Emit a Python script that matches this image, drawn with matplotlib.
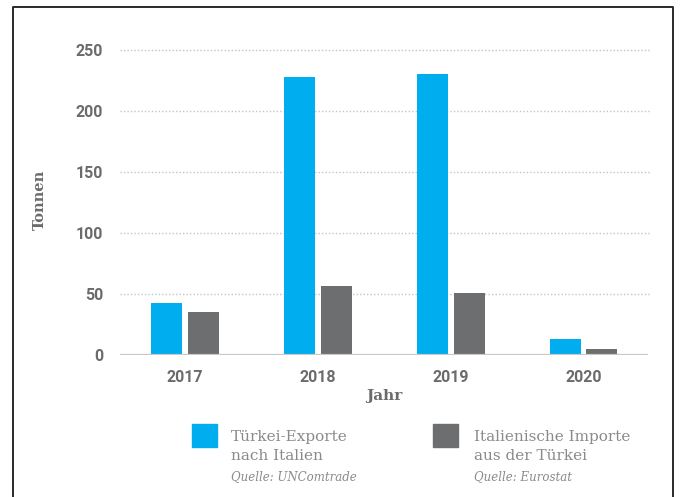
import matplotlib
matplotlib.use("Agg")
import matplotlib.pyplot as plt
from matplotlib.patches import Rectangle
from matplotlib.lines import Line2D
import numpy as np

years = ["2017", "2018", "2019", "2020"]
exports_tr = [43, 228, 230, 13]      # Türkei-Exporte nach Italien
imports_it = [35, 56.5, 51, 5]       # Italienische Importe aus der Türkei
y_ticks = [0, 50, 100, 150, 200, 250]

BLUE = "#00AEEF"
GREY = "#6D6E70"
TXT = "#6b6b6b"

W, H = 681, 497
fig = plt.figure(figsize=(W / 100, H / 100), dpi=100)

def fx(px):
    return px / W

def fy(py):
    return 1 - py / H

# outer frame (left, top, right)
fig.add_artist(Line2D([fx(13), fx(13), fx(673), fx(673)],
                      [0, fy(7), fy(7), 0], color="#2a2a2a", lw=1.4,
                      transform=fig.transFigure))

ax = fig.add_axes([fx(120), fy(355), fx(650) - fx(120), fy(50) - fy(355)])
x = np.arange(len(years))
bw = 0.233
off = 0.138
ax.bar(x - off, exports_tr, bw, color=BLUE, zorder=3)
ax.bar(x + off, imports_it, bw, color=GREY, zorder=3)

ax.set_xlim(-0.49, 3.5)
ax.set_ylim(0, 250)
ax.set_yticks(y_ticks)
ax.set_xticks(x)
ax.set_xticklabels(years)
for s in ax.spines.values():
    s.set_visible(False)
for t in y_ticks[1:]:
    ax.axhline(t, color="#c4c4c4", lw=1.0, ls=(0, (1, 1.5)), zorder=1,
               clip_on=False)
ax.axhline(0, color="#c8c8c8", lw=1.6, zorder=4, xmax=0.995)

ax.tick_params(length=0)
ax.tick_params(axis="y", pad=12.2)
ax.tick_params(axis="x", pad=10.5)
for lab in ax.get_xticklabels() + ax.get_yticklabels():
    lab.set_fontfamily("Roboto")
    lab.set_fontweight("bold")
    lab.set_fontsize(11.5)
    lab.set_color(TXT)

fig.text(fx(40), fy(200), "Tonnen", family="DejaVu Serif", fontweight="bold",
         fontsize=10.5, color=TXT, ha="center", va="center", rotation=90)
fig.text(fx(384), fy(396), "Jahr", family="DejaVu Serif", fontweight="bold",
         fontsize=11, color=TXT, ha="center", va="center")

# legend
fig.add_artist(Rectangle((fx(192), fy(447)), fx(25), fy(424) - fy(447),
                         color=BLUE, transform=fig.transFigure))
fig.add_artist(Rectangle((fx(433), fy(447)), fx(25), fy(424) - fy(447),
                         color=GREY, transform=fig.transFigure))
leg_txt = "#8a8a8a"
fig.text(fx(231), fy(437), "Türkei-Exporte", family="DejaVu Serif",
         fontsize=11, color=leg_txt, va="center")
fig.text(fx(231), fy(456), "nach Italien", family="DejaVu Serif",
         fontsize=11, color=leg_txt, va="center")
fig.text(fx(231), fy(477), "Quelle: UNComtrade", family="DejaVu Serif",
         fontsize=8.5, color=leg_txt, va="center", style="italic")
fig.text(fx(474), fy(437), "Italienische Importe", family="DejaVu Serif",
         fontsize=11, color=leg_txt, va="center")
fig.text(fx(474), fy(456), "aus der Türkei", family="DejaVu Serif",
         fontsize=11, color=leg_txt, va="center")
fig.text(fx(474), fy(477), "Quelle: Eurostat", family="DejaVu Serif",
         fontsize=8.5, color=leg_txt, va="center", style="italic")

fig.savefig("out.png", dpi=100)
